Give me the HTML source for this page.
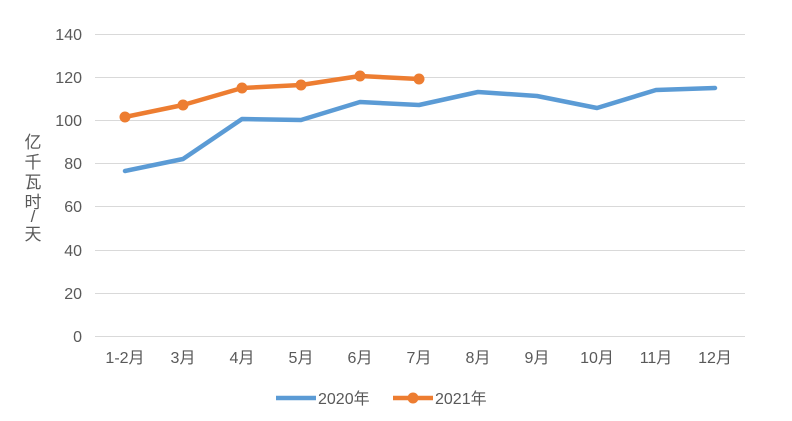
<!DOCTYPE html>
<html><head><meta charset="utf-8"><style>
html,body{margin:0;padding:0;background:#fff;}
svg text{font-family:"Liberation Sans","Noto Sans CJK SC",sans-serif;fill:#595959;}
</style></head><body>
<svg width="792" height="416" viewBox="0 0 792 416" xmlns="http://www.w3.org/2000/svg">
<g stroke="#d9d9d9" stroke-width="1">
<line x1="95" y1="34.5" x2="745" y2="34.5"/>
<line x1="95" y1="77.5" x2="745" y2="77.5"/>
<line x1="95" y1="120.5" x2="745" y2="120.5"/>
<line x1="95" y1="163.5" x2="745" y2="163.5"/>
<line x1="95" y1="206.5" x2="745" y2="206.5"/>
<line x1="95" y1="250.5" x2="745" y2="250.5"/>
<line x1="95" y1="293.5" x2="745" y2="293.5"/>
<line x1="95" y1="336.5" x2="745" y2="336.5"/>
</g>
<g font-size="16" text-anchor="end">
<text x="82" y="40">140</text><text x="82" y="83">120</text><text x="82" y="126">100</text>
<text x="82" y="169">80</text><text x="82" y="212">60</text><text x="82" y="256">40</text>
<text x="82" y="299">20</text><text x="82" y="342">0</text>
</g>
<g font-size="17" text-anchor="middle">
<text x="33" y="148">亿</text><text x="33" y="168">千</text><text x="33" y="188">瓦</text><text x="33" y="208">时</text><text x="33" y="222">/</text><text x="33" y="240">天</text>
</g>
<g font-size="16" text-anchor="middle">
<text x="125" y="363">1-2月</text><text x="183" y="363">3月</text><text x="242" y="363">4月</text>
<text x="301" y="363">5月</text><text x="360" y="363">6月</text><text x="419" y="363">7月</text>
<text x="478" y="363">8月</text><text x="537" y="363">9月</text><text x="597" y="363">10月</text>
<text x="656" y="363">11月</text><text x="715" y="363">12月</text>
</g>
<polyline fill="none" stroke="#5b9bd5" stroke-width="4.5" stroke-linejoin="round" stroke-linecap="round"
points="125,171 183,159 242,119 301,120 360,102 419,105 478,92 537,96 597,108 656,90 715,88"/>
<polyline fill="none" stroke="#ed7d31" stroke-width="4.5" stroke-linejoin="round" stroke-linecap="round"
points="125,117 183,105 242,88 301,85 360,76 419,79"/>
<g fill="#ed7d31">
<circle cx="125" cy="117" r="5.5"/><circle cx="183" cy="105" r="5.5"/><circle cx="242" cy="88" r="5.5"/>
<circle cx="301" cy="85" r="5.5"/><circle cx="360" cy="76" r="5.5"/><circle cx="419" cy="79" r="5.5"/>
</g>
<line x1="276" y1="398" x2="316" y2="398" stroke="#5b9bd5" stroke-width="4.5"/>
<text x="318" y="404" font-size="16">2020年</text>
<line x1="393" y1="398" x2="433" y2="398" stroke="#ed7d31" stroke-width="4.5"/>
<circle cx="413" cy="398" r="5.5" fill="#ed7d31"/>
<text x="435" y="404" font-size="16">2021年</text>
</svg>
</body></html>
